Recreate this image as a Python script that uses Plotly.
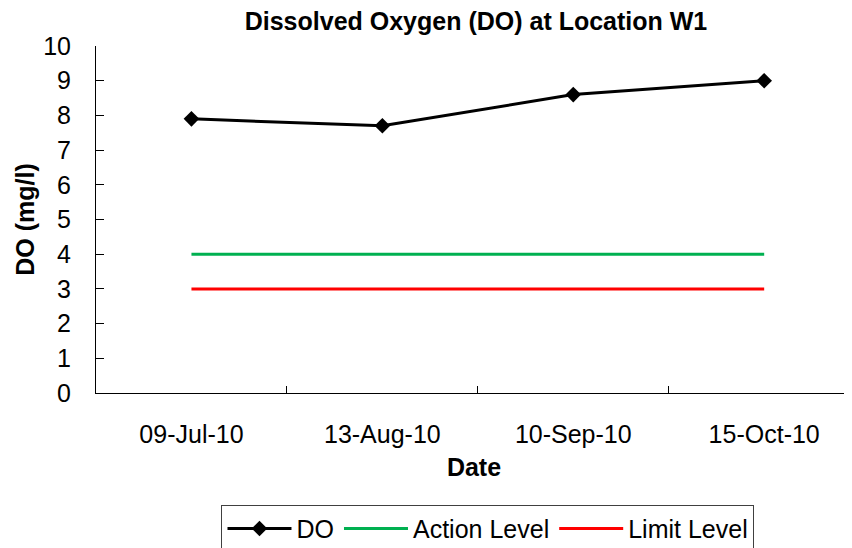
import plotly.graph_objects as go

# Datos
fechas = ["09-Jul-10", "13-Aug-10", "10-Sep-10", "15-Oct-10"]
do_valores = [7.9, 7.7, 8.6, 9.0]
nivel_accion = [4, 4, 4, 4]
nivel_limite = [3, 3, 3, 3]
ticks_y = list(range(0, 11))

FUENTE = "Liberation Sans, Arial, sans-serif"

fig = go.Figure()

fig.add_trace(go.Scatter(
    x=fechas, y=do_valores, mode="lines+markers", name="DO",
    line=dict(color="black", width=3),
    marker=dict(symbol="diamond", size=12, color="black"),
))
fig.add_trace(go.Scatter(
    x=fechas, y=nivel_accion, mode="lines", name="Action Level",
    line=dict(color="#00B050", width=3),
))
fig.add_trace(go.Scatter(
    x=fechas, y=nivel_limite, mode="lines", name="Limit Level",
    line=dict(color="#FF0000", width=3),
))

# la página tiene 8px de margen en el body, se compensa aquí
fig.update_layout(
    width=844, height=540,
    margin=dict(l=88, r=0, t=38, b=155, autoexpand=False),
    paper_bgcolor="white", plot_bgcolor="white",
    font=dict(family=FUENTE, color="black", size=25),
    title=dict(
        text="<b>Dissolved Oxygen (DO) at Location W1</b>",
        x=0.5545, xanchor="center", y=0.976, yanchor="middle",
        font=dict(size=25),
    ),
    legend=dict(
        orientation="h", x=0.5185, xanchor="center", y=-0.322, yanchor="top",
        bordercolor="#404040", borderwidth=1, font=dict(size=25),
        itemwidth=64, tracegroupgap=0,
    ),
)

fig.update_xaxes(
    type="category", range=[-0.5, 3.46], automargin=False,
    showline=True, linecolor="black", linewidth=1,
    ticks="inside", ticklen=7, tickcolor="black", tickson="boundaries",
    showgrid=False, ticklabelstandoff=19,
    title=dict(text="<b>Date</b>", font=dict(size=25), standoff=11),
)
fig.update_yaxes(
    range=[0, 10], tickvals=ticks_y, automargin=False,
    showline=True, linecolor="black", linewidth=1,
    ticks="inside", ticklen=8, tickcolor="black",
    showgrid=False, zeroline=False, ticklabelstandoff=19,
    title=dict(text="<b>DO (mg/l)</b>", font=dict(size=25), standoff=1),
)

fig.write_html("out.html")
